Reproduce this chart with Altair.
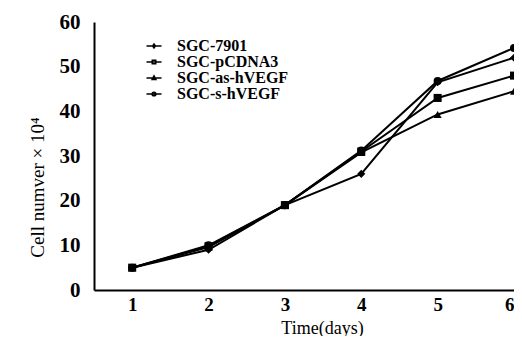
import altair as alt
import pandas as pd

days = [1, 2, 3, 4, 5, 6]
series_names = ["SGC-7901", "SGC-pCDNA3", "SGC-as-hVEGF", "SGC-s-hVEGF"]
sgc_7901 = [5.0, 9.0, 19.0, 26.0, 46.5, 52.0]
sgc_pcdna3 = [5.0, 9.8, 19.0, 31.0, 43.0, 48.0]
sgc_as_hvegf = [5.0, 9.6, 19.0, 30.8, 39.3, 44.5]
sgc_s_hvegf = [5.0, 10.0, 19.0, 31.2, 46.8, 54.2]
y_ticks = [0, 10, 20, 30, 40, 50, 60]

values = [sgc_7901, sgc_pcdna3, sgc_as_hvegf, sgc_s_hvegf]
rows = []
for name, vals in zip(series_names, values):
    for d, v in zip(days, vals):
        rows.append({"day": d, "value": v, "series": name})
df = pd.DataFrame(rows)

marker_shapes = ["diamond", "square", "triangle-up", "circle"]
legend_paths = [
    "M-1.5,0H1.5M0,-0.4L0.28,0L0,0.4L-0.28,0Z",
    "M-1.5,0H1.5M-0.35,-0.35H0.35V0.35H-0.35Z",
    "M-1.5,0H1.5M0,-0.42L0.38,0.3H-0.38Z",
    "M-1.5,0H1.5M-0.37,0A0.37,0.37 0 1,0 0.37,0A0.37,0.37 0 1,0 -0.37,0Z",
]

x_enc = alt.X("day:Q", scale=alt.Scale(domain=[0.5, 6], nice=False),
              axis=alt.Axis(values=days, format="d", title="Time(days)",
                            titleX=228, titleY=43, titleBaseline="alphabetic",
                            titleFontSize=18, labelFontSize=19, labelPadding=5))
y_enc = alt.Y("value:Q", scale=alt.Scale(domain=[0, 60], nice=False),
              axis=alt.Axis(values=y_ticks, title="Cell numver × 10⁴", titleY=165))

base = alt.Chart(df)

lines = base.mark_line(color="black", strokeWidth=2).encode(
    x=x_enc, y=y_enc, detail="series:N"
)

points = base.mark_point(filled=True, color="black", opacity=1, size=65).encode(
    x=x_enc, y=y_enc,
    shape=alt.Shape("series:N", scale=alt.Scale(domain=series_names, range=marker_shapes),
                    legend=None),
)

ghost = base.mark_point(filled=False, color="black", opacity=0).encode(
    x=x_enc, y=y_enc,
    shape=alt.Shape("series:N", scale=alt.Scale(domain=series_names, range=legend_paths),
                    legend=alt.Legend(title=None, orient="none", legendX=52, legendY=16,
                                      symbolSize=100, symbolOpacity=1,
                                      symbolFillColor="black", symbolStrokeColor="black",
                                      symbolStrokeWidth=1.5,
                                      labelFont="Liberation Serif", labelFontSize=16,
                                      labelFontWeight="bold", labelColor="black",
                                      labelOffset=15, rowPadding=-1)),
)

chart = alt.layer(lines, points, ghost).resolve_scale(shape="independent").properties(
    width=420, height=268,
    autosize=alt.AutoSizeParams(type="none"),
    padding={"left": 86, "top": 14, "right": 0, "bottom": 46},
).configure_view(stroke=None).configure_axis(
    grid=False, ticks=False, domainColor="black", domainWidth=2,
    labelFont="Liberation Serif", labelFontSize=21, labelFontWeight="bold", labelColor="black",
    titleFont="Liberation Serif", titleFontSize=19, titleFontWeight="normal",
    titleColor="black",
).configure_axisY(labelPadding=14, titlePadding=12)

chart.save("out.html", embed_options={"renderer": "svg", "actions": False})
